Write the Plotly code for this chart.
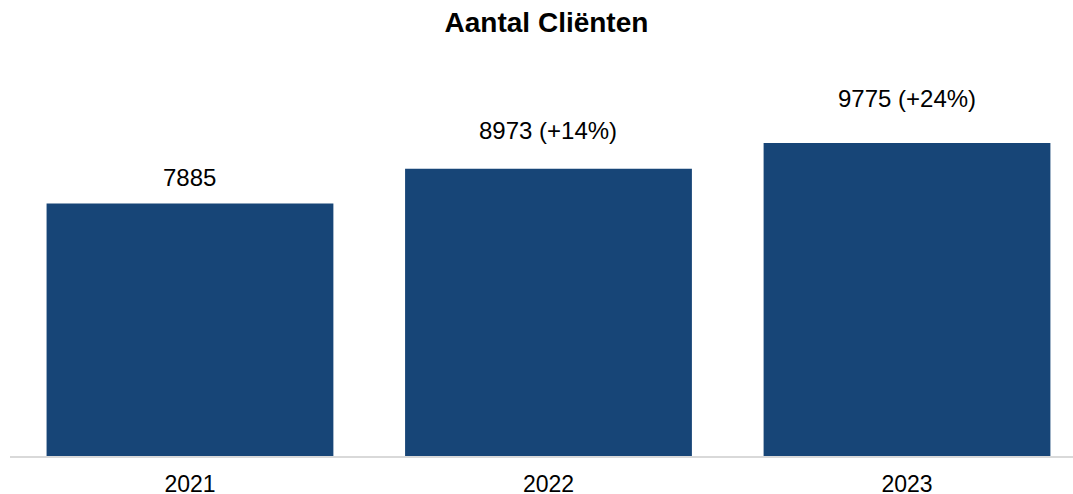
import plotly.graph_objects as go

# Client counts per year
years = ["2021", "2022", "2023"]
clients = [7885, 8973, 9775]
growth = [None, "+14%", "+24%"]  # change relative to 2021

labels = [f"{v}" if g is None else f"{v} ({g})" for v, g in zip(clients, growth)]
# vertical gap (px) between each bar top and its label
label_gap = [11, 23, 29]

BAR_COLOR = "#174577"
FONT = "Arial, Liberation Sans, sans-serif"

fig = go.Figure(
    go.Bar(
        x=list(range(len(years))),
        y=clients,
        width=0.8,
        marker=dict(color=BAR_COLOR, line=dict(width=0)),
        hoverinfo="skip",
    )
)

for i, (v, lab, gap) in enumerate(zip(clients, labels, label_gap)):
    fig.add_annotation(
        x=i, y=v, text=lab, showarrow=False,
        xanchor="center", yanchor="bottom", yshift=gap,
        font=dict(family=FONT, size=24, color="#000000"),
    )

fig.update_layout(
    width=1073, height=494,
    margin=dict(l=10, r=0, t=60, b=38, pad=0, autoexpand=False),
    paper_bgcolor="white", plot_bgcolor="white",
    showlegend=False,
    title=dict(
        text="<b>Aantal Cliënten</b>",
        x=0.5093, xanchor="center", y=0.955, yanchor="middle",
        font=dict(family=FONT, size=28, color="#000000"),
    ),
    font=dict(family=FONT, color="#000000"),
)

fig.update_xaxes(
    range=[-0.502, 2.463],
    tickmode="array", tickvals=list(range(len(years))), ticktext=years,
    tickfont=dict(family=FONT, size=23, color="#000000"),
    showline=True, linecolor="#d9d9d9", linewidth=2,
    ticks="outside", ticklen=6, tickcolor="rgba(0,0,0,0)",
    showgrid=False, zeroline=False, automargin=False,
)
fig.update_yaxes(
    range=[0, 12367],
    visible=False, showgrid=False, zeroline=False, automargin=False,
)

fig.write_html("out.html")
